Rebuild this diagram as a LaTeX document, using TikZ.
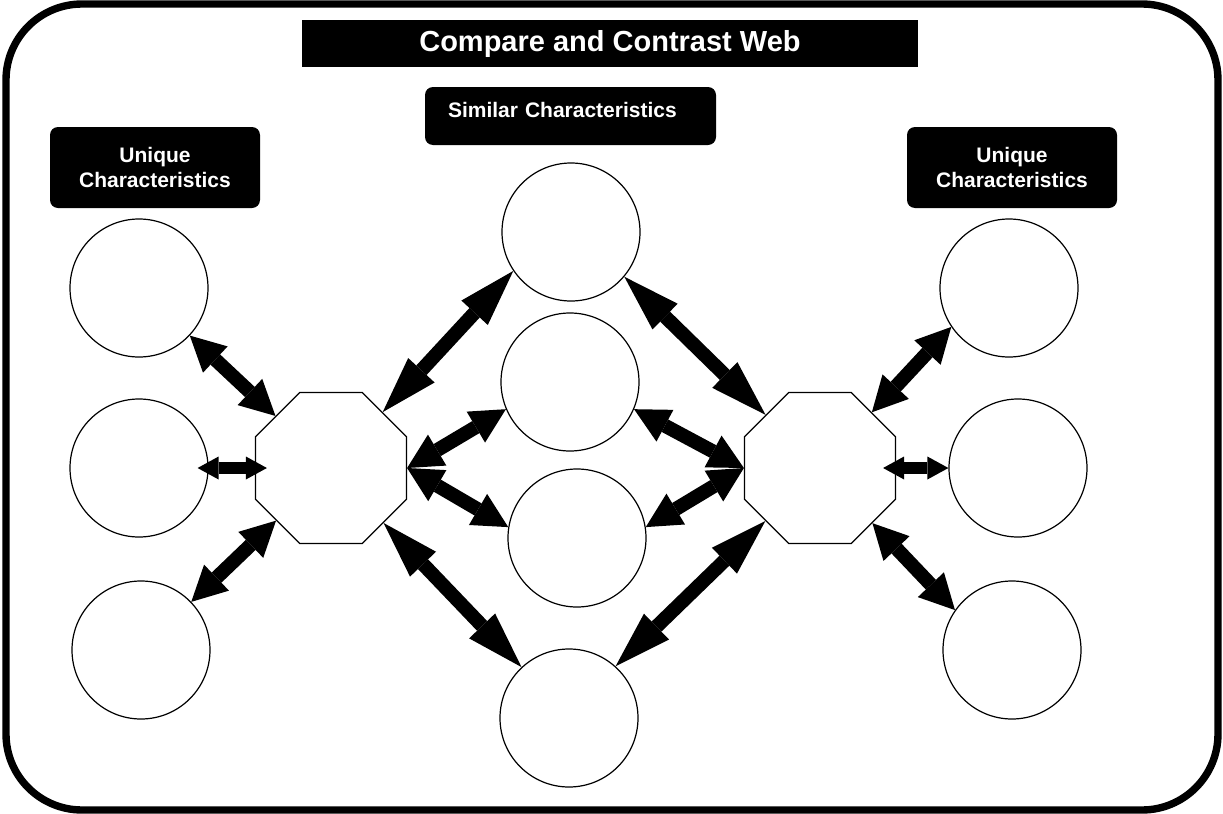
\documentclass[tikz,border=0pt]{standalone}
\usepackage{fontspec}
\setmainfont{Liberation Sans}
\usetikzlibrary{shapes.geometric}
\usetikzlibrary{arrows.meta}
\tikzstyle{every node}=[font=\bfseries]
\tikzstyle{blob}=[circle,draw,line width=0.6pt,minimum size=69pt,inner sep=0pt]
\tikzstyle{hub}=[regular polygon,regular polygon sides=8,draw,line width=0.6pt,minimum size=81.7pt,inner sep=0pt]
\tikzstyle{tag}=[rounded corners=4pt,fill=black,text=white,font=\fontsize{10.5}{12.5}\selectfont\bfseries,align=center]
\tikzstyle{link}=[line width=7pt,{Triangle[length=17.5pt,width=18pt,line width=0pt]}-{Triangle[length=17.5pt,width=18pt,line width=0pt]}]
\tikzstyle{longlink}=[line width=7pt,{Triangle[length=28.5pt,width=18pt,line width=0pt]}-{Triangle[length=28.5pt,width=18pt,line width=0pt]}]
\tikzstyle{shortlink}=[line width=6pt,{Triangle[length=10.5pt,width=11.5pt,line width=0pt]}-{Triangle[length=10.5pt,width=11.5pt,line width=0pt]}]

\begin{document}
\begin{tikzpicture}[x=0.5pt,y=-0.5pt]
    % Page frame
    \useasboundingbox (0,0) rectangle (1223,814);
    \draw[line width=3.7pt,rounded corners=38pt] (6,4) rectangle (1218,810);

    % Headings
    \node[fill=black,text=white,minimum width=308pt,minimum height=23.5pt,
        font=\fontsize{14.5}{17}\selectfont\bfseries] (title) at (610,43.5) {Compare and Contrast Web};
    \node[tag,minimum width=145.5pt,minimum height=29pt,text width=122.5pt,
        inner xsep=11.5pt,align=left,text depth=6pt] (same) at (570.5,116) {Similar Characteristics};
    \node[tag,minimum width=105pt,minimum height=40.5pt] (uniqueL) at (155,167.5) {Unique\\Characteristics};
    \node[tag,minimum width=105pt,minimum height=40.5pt] (uniqueR) at (1012,167.5) {Unique\\Characteristics};

    % Left column
    \node[blob] (L1) at (139,288) {};
    \node[blob] (L2) at (139,468) {};
    \node[blob] (L3) at (141,650) {};
    % Middle column
    \node[blob] (C1) at (571,232) {};
    \node[blob] (C2) at (570,382) {};
    \node[blob] (C3) at (577,538) {};
    \node[blob] (C4) at (569,718) {};
    % Right column
    \node[blob] (R1) at (1009,288) {};
    \node[blob] (R2) at (1018,468) {};
    \node[blob] (R3) at (1012,650) {};

    % Octagons
    \node[hub] (hubL) at (331,468) {};
    \node[hub] (hubR) at (820,468) {};

    % Arrows on the left
    \draw[link] (L1) -- (hubL);
    \draw[shortlink,shorten <=-5.5pt,shorten >=-6pt] (L2) -- (hubL);
    \draw[link] (L3) -- (hubL);
    % Arrows to the middle
    \draw[longlink] (C1.214) -- (hubL);
    \draw[link] (C2.203) -- (hubL.east);
    \draw[link] (hubL.east) -- (C3.171);
    \draw[longlink] (hubL) -- (C4.133);
    \draw[longlink] (C1.-40) -- (hubR);
    \draw[link] (C2.-23) -- (hubR.west);
    \draw[link] (hubR.west) -- (C3.9);
    \draw[longlink] (C4.48) -- (hubR);
    % Arrows on the right
    \draw[link] (hubR) -- (R1.214);
    \draw[shortlink,shorten <=-6.5pt] (hubR) -- (R2);
    \draw[link] (hubR) -- (R3.145);
\end{tikzpicture}
\end{document}
